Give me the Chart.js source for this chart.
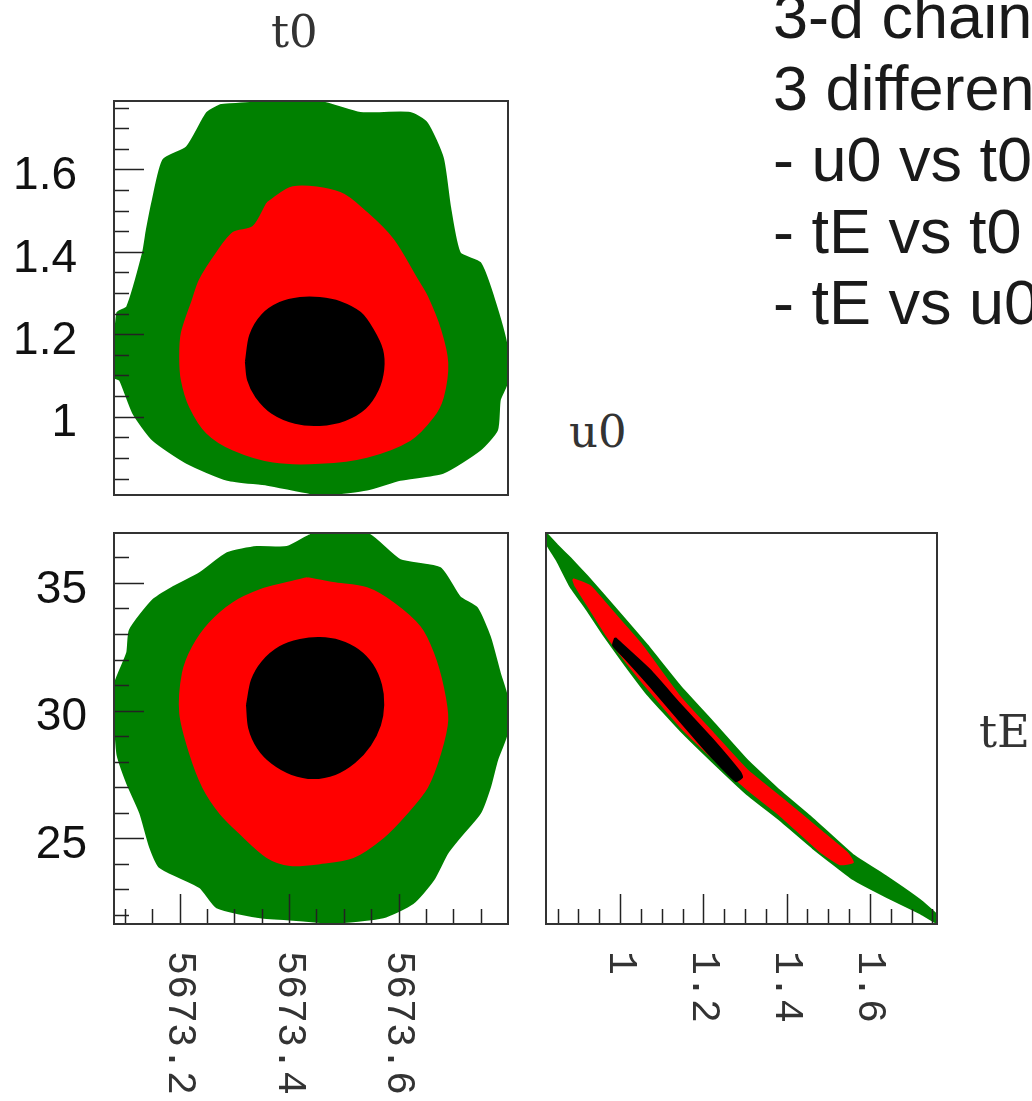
<!DOCTYPE html>
<html>
<head>
<meta charset="utf-8">
<script src="https://cdn.jsdelivr.net/npm/chart.js@4.4.1/dist/chart.umd.min.js"></script>
<style>
  html, body { margin: 0; padding: 0; background: #fff; width: 1032px; height: 1101px; overflow: hidden; }
  canvas { position: absolute; }
  .lbl { position: absolute; font-family: "DejaVu Serif", serif; font-size: 45px; line-height: 1; color: #333; white-space: nowrap; z-index: 2; }
  #notes { position: absolute; left: 773px; top: -19px; font-family: "Liberation Sans", Arial, sans-serif; font-size: 63px; line-height: 71.5px; color: #1a1a1a; white-space: nowrap; z-index: 2; }
</style>
</head>
<body>
<canvas id="pA" width="540" height="520" style="left:0;top:0"></canvas>
<canvas id="pB" width="540" height="581" style="left:0;top:520px"></canvas>
<canvas id="pC" width="492" height="581" style="left:540px;top:520px"></canvas>

<div class="lbl" style="left:271px;top:9px">t0</div>
<div class="lbl" style="left:569px;top:409px">u0</div>
<div class="lbl" style="left:979px;top:709px">tE</div>

<div id="notes">3-d chain<br>3 different<br>- u0 vs t0<br>- tE vs t0<br>- tE vs u0</div>

<script>
// axis ranges
const t0Range = [5673.08, 5673.80];
const u0Range = [0.81, 1.766];
const u0RangeC = [0.822, 1.761];
const tERange = [21.65, 36.95];

// tick marks (all) and labelled ones
const t0Ticks = [5673.1, 5673.15, 5673.2, 5673.25, 5673.3, 5673.35, 5673.4, 5673.45, 5673.5, 5673.55, 5673.6, 5673.65, 5673.7, 5673.75];
const t0Major = [5673.2, 5673.4, 5673.6];
const t0Labels = ['5673.2', '5673.4', '5673.6'];
const u0Ticks = [0.85, 0.9, 0.95, 1, 1.05, 1.1, 1.15, 1.2, 1.25, 1.3, 1.35, 1.4, 1.45, 1.5, 1.55, 1.6, 1.65, 1.7, 1.75];
const u0Major = [1, 1.2, 1.4, 1.6];
const u0Labels = ['1', '1.2', '1.4', '1.6'];
const tETicks = [22, 23, 24, 25, 26, 27, 28, 29, 30, 31, 32, 33, 34, 35, 36];
const tEMajor = [25, 30, 35];
const tELabels = ['25', '30', '35'];

// region outlines: [x, y]
// u0 vs t0
const t0u0Green = [[5673.274,1.756],[5673.347,1.763],[5673.456,1.764],[5673.530,1.737],[5673.621,1.737],[5673.652,1.712],[5673.681,1.627],[5673.694,1.509],[5673.712,1.397],[5673.749,1.373],[5673.773,1.291],[5673.798,1.169],[5673.798,1.082],[5673.785,1.041],[5673.780,0.968],[5673.749,0.920],[5673.681,0.864],[5673.603,0.847],[5673.542,0.823],[5673.475,0.812],[5673.438,0.815],[5673.360,0.835],[5673.287,0.847],[5673.213,0.888],[5673.151,0.944],[5673.115,1.009],[5673.091,1.089],[5673.080,1.097],[5673.086,1.252],[5673.104,1.266],[5673.133,1.397],[5673.140,1.453],[5673.151,1.526],[5673.170,1.623],[5673.213,1.654],[5673.250,1.737]];
const t0u0Red = [[5673.360,1.518],[5673.407,1.557],[5673.493,1.543],[5673.542,1.494],[5673.590,1.429],[5673.634,1.332],[5673.652,1.291],[5673.676,1.211],[5673.689,1.131],[5673.681,1.048],[5673.663,1.000],[5673.621,0.944],[5673.542,0.903],[5673.456,0.888],[5673.371,0.891],[5673.298,0.920],[5673.250,0.961],[5673.219,1.024],[5673.204,1.089],[5673.201,1.145],[5673.204,1.203],[5673.224,1.283],[5673.237,1.332],[5673.268,1.397],[5673.298,1.446],[5673.334,1.460]];
const t0u0Black = [[5673.321,1.133],[5673.329,1.198],[5673.351,1.247],[5673.383,1.276],[5673.420,1.288],[5673.456,1.288],[5673.493,1.278],[5673.530,1.252],[5673.553,1.211],[5673.570,1.162],[5673.572,1.114],[5673.562,1.065],[5673.539,1.021],[5673.502,0.992],[5673.456,0.980],[5673.411,0.985],[5673.369,1.009],[5673.340,1.048],[5673.325,1.089]];

// tE vs t0
const t0tEGreen = [[5673.438,36.87],[5673.511,36.94],[5673.548,36.87],[5673.603,35.89],[5673.676,35.58],[5673.712,34.44],[5673.743,34.02],[5673.767,32.88],[5673.785,31.47],[5673.798,30.53],[5673.798,29.12],[5673.780,28.06],[5673.767,27.00],[5673.749,25.99],[5673.712,25.05],[5673.689,24.42],[5673.663,23.36],[5673.626,22.46],[5673.572,21.91],[5673.480,21.70],[5673.420,21.80],[5673.347,21.91],[5673.268,22.30],[5673.237,23.09],[5673.164,23.87],[5673.146,24.66],[5673.128,25.99],[5673.104,27.16],[5673.086,28.33],[5673.080,30.92],[5673.104,32.25],[5673.109,33.15],[5673.151,34.32],[5673.188,34.83],[5673.237,35.38],[5673.287,36.16],[5673.341,36.40],[5673.396,36.40]];
const t0tERed = [[5673.433,35.18],[5673.480,34.99],[5673.542,34.79],[5673.590,34.21],[5673.639,33.27],[5673.663,32.25],[5673.681,30.92],[5673.689,29.63],[5673.676,28.33],[5673.652,27.00],[5673.615,25.99],[5673.572,25.05],[5673.517,24.27],[5673.456,24.03],[5673.402,23.96],[5673.360,24.27],[5673.310,25.21],[5673.274,25.99],[5673.243,27.00],[5673.219,28.33],[5673.201,29.90],[5673.206,31.47],[5673.224,32.48],[5673.255,33.42],[5673.298,34.21],[5673.347,34.71],[5673.396,34.99]];
const t0tEBlack = [[5673.323,30.22],[5673.332,31.19],[5673.351,31.90],[5673.383,32.48],[5673.420,32.76],[5673.456,32.84],[5673.493,32.72],[5673.526,32.37],[5673.552,31.79],[5673.568,31.00],[5673.572,30.22],[5673.566,29.43],[5673.548,28.65],[5673.520,27.99],[5673.484,27.52],[5673.444,27.36],[5673.405,27.52],[5673.369,27.95],[5673.343,28.54],[5673.327,29.32]];

// tE vs u0
const u0tEGreen = [[0.820,36.98],[0.849,36.47],[0.880,35.97],[0.921,35.26],[0.959,34.56],[1.007,33.66],[1.065,32.56],[1.144,30.96],[1.223,29.55],[1.305,28.06],[1.384,26.85],[1.463,25.76],[1.559,24.35],[1.641,23.49],[1.720,22.59],[1.761,22.00],[1.761,21.69],[1.720,22.08],[1.641,22.70],[1.559,23.41],[1.463,24.62],[1.384,25.72],[1.305,26.73],[1.223,27.98],[1.144,29.24],[1.065,30.65],[1.007,31.90],[0.959,32.99],[0.921,33.93],[0.880,34.87],[0.849,35.85],[0.820,36.63]];
const u0tERed = [[0.887,35.14],[0.928,34.87],[0.983,33.85],[1.048,32.64],[1.144,30.53],[1.223,29.12],[1.305,27.67],[1.384,26.62],[1.480,25.32],[1.545,24.43],[1.559,24.07],[1.528,23.99],[1.480,24.50],[1.384,25.91],[1.305,26.93],[1.223,28.14],[1.144,29.39],[1.072,30.76],[1.017,31.86],[0.969,32.91],[0.928,33.97],[0.892,34.91]];
const u0tEBlack = [[0.988,32.84],[1.072,31.58],[1.144,30.25],[1.223,28.85],[1.288,27.59],[1.293,27.40],[1.278,27.24],[1.209,28.38],[1.144,29.59],[1.072,30.96],[1.012,32.05],[0.983,32.56]];

const GREEN = 'rgb(0,128,0)';
const RED = 'rgb(255,0,0)';
const BLACK = 'rgb(0,0,0)';

function region(points, color, tension) {
  const data = points.map(p => ({ x: p[0], y: p[1] }));
  data.push({ x: points[0][0], y: points[0][1] });
  return {
    data,
    showLine: true,
    fill: 'shape',
    backgroundColor: color,
    borderColor: color,
    borderWidth: 2,
    pointRadius: 0,
    tension
  };
}

// ROOT-like frame: ticks inside the box, labels outside
const rootAxes = {
  id: 'rootAxes',
  afterDatasetsDraw(chart, args, o) {
    const { ctx, chartArea: a, scales: { x, y } } = chart;
    ctx.save();
    ctx.strokeStyle = '#222';
    ctx.lineWidth = 1.5;
    (o.yTicks || []).forEach(v => {
      const py = Math.round(y.getPixelForValue(v)) + 0.5;
      const len = o.yMajor.includes(v) ? 30 : 15;
      ctx.beginPath(); ctx.moveTo(a.left, py); ctx.lineTo(a.left + len, py); ctx.stroke();
    });
    (o.xTicks || []).forEach(v => {
      const px = Math.round(x.getPixelForValue(v)) + 0.5;
      const len = o.xMajor.includes(v) ? 30 : 15;
      ctx.beginPath(); ctx.moveTo(px, a.bottom); ctx.lineTo(px, a.bottom - len); ctx.stroke();
    });
    ctx.lineWidth = 2;
    ctx.strokeStyle = '#333';
    ctx.strokeRect(a.left, a.top, a.right - a.left, a.bottom - a.top);

    ctx.fillStyle = '#111';
    if (o.yLabels) {
      ctx.font = '46px "Liberation Sans", Arial, sans-serif';
      ctx.textAlign = 'right';
      ctx.textBaseline = 'middle';
      o.yMajor.forEach((v, i) => ctx.fillText(o.yLabels[i], a.left - o.yGap, y.getPixelForValue(v) + 7));
    }
    if (o.xLabels) {
      ctx.font = '40px "Liberation Mono", monospace';
      ctx.textAlign = 'left';
      ctx.textBaseline = 'middle';
      ctx.fillStyle = '#333';
      o.xMajor.forEach((v, i) => {
        ctx.save();
        ctx.translate(x.getPixelForValue(v), a.bottom + 27);
        ctx.rotate(Math.PI / 2);
        ctx.fillText(o.xLabels[i], 0, 0);
        ctx.restore();
      });
    }
    ctx.restore();
  }
};

function panel(id, datasets, xr, yr, padding, axes) {
  return new Chart(document.getElementById(id), {
    type: 'scatter',
    data: { datasets },
    options: {
      responsive: false,
      animation: false,
      events: [],
      layout: { padding },
      scales: {
        x: { type: 'linear', display: false, min: xr[0], max: xr[1] },
        y: { type: 'linear', display: false, min: yr[0], max: yr[1] }
      },
      plugins: { legend: { display: false }, tooltip: { enabled: false }, rootAxes: axes }
    },
    plugins: [rootAxes]
  });
}

// black first so it is painted on top
panel('pA',
  [region(t0u0Black, BLACK, 0.3), region(t0u0Red, RED, 0.3), region(t0u0Green, GREEN, 0.2)],
  t0Range, u0Range,
  { left: 114, top: 101, right: 32, bottom: 25 },
  { yTicks: u0Ticks, yMajor: u0Major, yLabels: u0Labels, yGap: 37 });

panel('pB',
  [region(t0tEBlack, BLACK, 0.3), region(t0tERed, RED, 0.3), region(t0tEGreen, GREEN, 0.2)],
  t0Range, tERange,
  { left: 114, top: 13, right: 32, bottom: 177 },
  { yTicks: tETicks, yMajor: tEMajor, yLabels: tELabels, yGap: 27,
    xTicks: t0Ticks, xMajor: t0Major, xLabels: t0Labels });

panel('pC',
  [region(u0tEBlack, BLACK, 0.15), region(u0tERed, RED, 0.15), region(u0tEGreen, GREEN, 0.1)],
  u0RangeC, tERange,
  { left: 6, top: 13, right: 95, bottom: 177 },
  { xTicks: u0Ticks, xMajor: u0Major, xLabels: u0Labels });
</script>
</body>
</html>
